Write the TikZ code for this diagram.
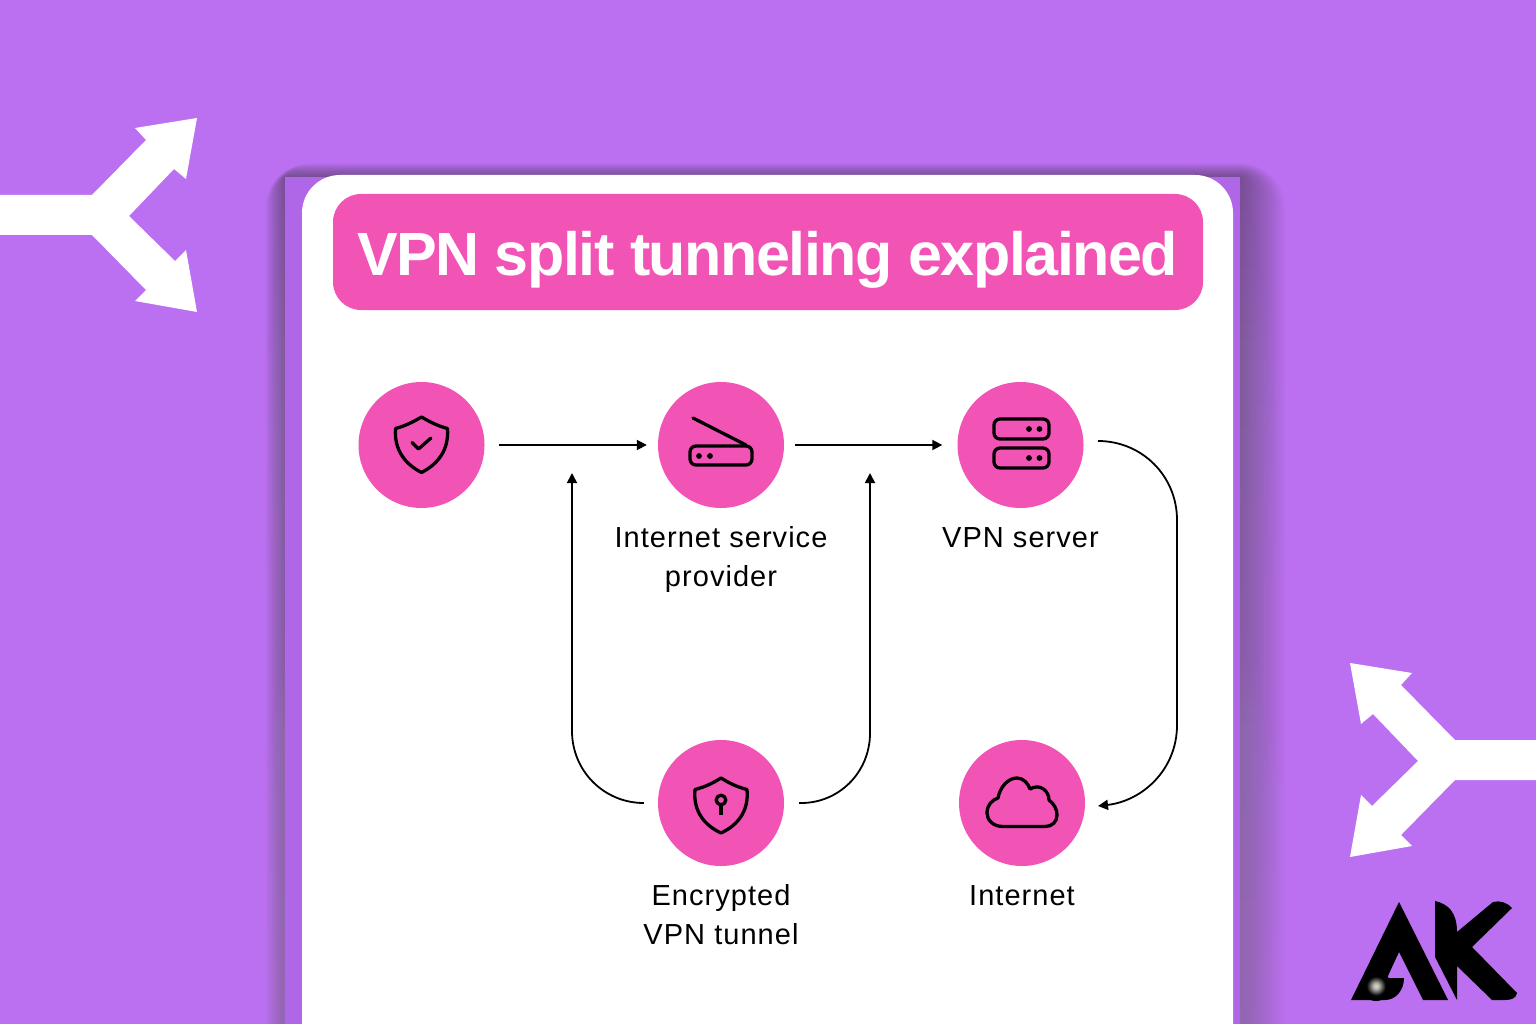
\documentclass[tikz,border=0pt]{standalone}
\usepackage{fontspec}
\setmainfont{Liberation Sans}
\newfontfamily\lblfont[LetterSpace=3.6]{Liberation Sans}
\newfontfamily\ttlfont[LetterSpace=-2.4]{Liberation Sans}
\usetikzlibrary{arrows.meta,shadings}
\definecolor{bgp}{RGB}{187,112,241}
\definecolor{band}{RGB}{175,103,232}
\definecolor{shade}{RGB}{100,45,165}
\definecolor{pinkc}{RGB}{242,84,182}
\pgfdeclareradialshading{glow}{\pgfpoint{0bp}{0bp}}{rgb(0bp)=(0.85,0.85,0.8);rgb(5bp)=(0.7,0.7,0.66);rgb(12bp)=(0.25,0.25,0.25);rgb(16bp)=(0,0,0);rgb(50bp)=(0,0,0)}
\tikzset{
  disc/.style={circle,fill=pinkc,minimum size=126pt,inner sep=0pt,draw=none},
  icon/.style={draw=black,line width=3.3pt,line join=round,line cap=round},
  conn/.style={draw=black,line width=1.8pt,-{Triangle[length=10pt,width=10pt]}},
  lbl/.style={font=\lblfont\fontsize{29}{39}\selectfont,text=black,align=center,inner sep=0pt},
  arrowshape/.style={fill=white,draw=none}
}
\begin{document}
\begin{tikzpicture}[x=1pt,y=-1pt]
\useasboundingbox (0,0) rectangle (1536,1024);
\clip (0,0) rectangle (1536,1024);
\fill[bgp] (0,0) rectangle (1536,1024);
% soft shadow of the card
\foreach \i in {15,14,...,1}{
  \fill[shade,opacity=0.018,rounded corners=\i*3pt] (285-\i*1.3,177-\i*0.9) rectangle (1240+\i*3,1120);
}
\fill[band] (285,177) rectangle (1240,1060);
\fill[white,rounded corners=38pt] (302,175) rectangle (1233,1090);
% title
\node[fill=pinkc,rounded corners=28pt,minimum width=870pt,minimum height=116pt,inner sep=0pt] (title) at (768,252) {};
\node[anchor=base,inner sep=0pt,font=\ttlfont\bfseries\fontsize{61}{61}\selectfont,text=white] (ttext) at (767.5,275.5) {VPN split tunneling explained};
% discs
\node[disc] (user) at (421.5,445) {};
\node[disc] (isp) at (721,445) {};
\node[disc] (srv) at (1020.5,445) {};
\node[disc] (enc) at (721,803) {};
\node[disc] (net) at (1022,803) {};
% labels
\node[lbl] (lisp) at (721,559) {Internet service\\provider};
\node[lbl] (lsrv) at (1020.5,538) {VPN server};
\node[lbl] (lenc) at (721,915) {Encrypted\\VPN tunnel};
\node[lbl] (lnet) at (1022,896) {Internet};
% connectors
\draw[conn,shorten <=14pt,shorten >=11pt] (user.east) -- (isp.west);
\draw[conn,shorten <=11pt,shorten >=15pt] (isp.east) -- (srv.west);
\coordinate (a1) at ([xshift=-14pt]enc.west);
\coordinate (a2) at (572,473);
\coordinate (b1) at ([xshift=15pt]enc.east);
\coordinate (b2) at (870,473);
\coordinate (c1) at (1098,441);
\coordinate (c2) at (1098,806);
\draw[conn] (a1) .. controls (604,803) and (572,771) .. (572,731) -- (a2);
\draw[conn] (b1) .. controls (838,804) and (870,773) .. (870,733) -- (b2);
\draw[conn] (c1) .. controls (1142,441) and (1177,476) .. (1177,520) -- (1177,725) .. controls (1177,770) and (1142,801) .. (c2);
% shield check
\draw[icon] (421.5,417) .. controls (430,422) and (438,426) .. (447.5,428.5)
  .. controls (449,450) and (438,464) .. (421.5,472.5)
  .. controls (405,464) and (394,450) .. (395.5,428.5)
  .. controls (405,426) and (413,422) .. (421.5,417) -- cycle;
\draw[icon] (412,442.5) -- (418.5,449) -- (431,438);
% router
\draw[icon] (693,418) -- (746,445);
\draw[icon,rounded corners=6pt] (690,446) rectangle (752,465);
\fill (699,456) circle (2.9);
\fill (710,456) circle (2.9);
% server
\draw[icon,rounded corners=6pt] (994,419) rectangle (1049,439);
\draw[icon,rounded corners=6pt] (994,448) rectangle (1049,468);
\fill (1029,429) circle (2.9);
\fill (1039.5,429) circle (2.9);
\fill (1029,458) circle (2.9);
\fill (1039.5,458) circle (2.9);
% shield lock
\draw[icon] (721,778) .. controls (729,783) and (737,787) .. (747,789.5)
  .. controls (749,811) and (738,825) .. (721,833)
  .. controls (704,825) and (693,811) .. (695,789.5)
  .. controls (705,787) and (713,783) .. (721,778) -- cycle;
\draw[icon] (721,800) circle (4.8);
\draw[icon,line cap=butt] (721,805) -- (721,815);
% cloud
\draw[icon] (1003,826.5) .. controls (993,826.5) and (987,820) .. (987,813)
  .. controls (987,805) and (992,800) .. (998,798)
  .. controls (1000,787) and (1008,778) .. (1017,778)
  .. controls (1023,778) and (1028,783) .. (1030,789)
  .. controls (1040,783) and (1049,791) .. (1049,800)
  .. controls (1054,804) and (1057,809) .. (1057,815)
  .. controls (1057,822) and (1052,826.5) .. (1045,826.5) -- cycle;
% white split arrows
\fill[arrowshape] (0,195) -- (92,195) -- (146,140) -- (135,128) -- (197,118) -- (186,179) -- (174,169) -- (129,216) -- (175,261) -- (186,250) -- (197,312) -- (135,301) -- (146,290) -- (92,235) -- (0,235) -- cycle;
\fill[arrowshape] (1536,740) -- (1455,740) -- (1401,685) -- (1412,673) -- (1350,663) -- (1361,724) -- (1373,714) -- (1418,761) -- (1372,806) -- (1361,795) -- (1350,857) -- (1412,846) -- (1401,835) -- (1455,780) -- (1536,780) -- cycle;
% AK logo
\fill[black] (1399,902) -- (1351,1000) -- (1385,1000) .. controls (1396,1000) and (1404,990) .. (1404,978) -- (1387,978) -- (1399,952) -- (1423,1000) -- (1448,1000) -- cycle;
\fill[black] (1435,901) .. controls (1448,904) and (1457,912) .. (1457,932)
  -- (1493,902) .. controls (1500,900) and (1508,903) .. (1512,908) -- (1472,947) -- (1517,993)
  .. controls (1516,998) and (1512,1000) .. (1505,1000) -- (1492,1000) -- (1457,966) -- (1457,1000) -- (1435,957) -- cycle;
\begin{scope}
\clip (1376,986) circle (15);
\shade[shading=glow] (1376,986) circle (15);
\end{scope}
\end{tikzpicture}
\end{document}
